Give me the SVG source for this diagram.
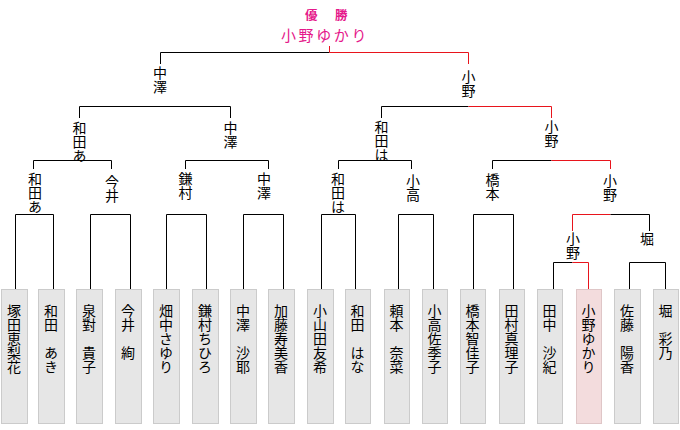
<svg xmlns="http://www.w3.org/2000/svg" width="680" height="430" viewBox="0 0 680 430">
<style>
.ln{fill:none;stroke:#000;stroke-width:1}
.rd{fill:none;stroke:#e8141c;stroke-width:1}
.box{fill:#e6e6e6;stroke:#cbcbcb;stroke-width:1}
.wbox{fill:#f3dcdd;stroke:#dfc6c7;stroke-width:1}
.v{font-family:"Noto Sans CJK JP","Noto Sans CJK SC",sans-serif;font-size:14px;fill:#000;writing-mode:vertical-rl}
.t1{font-family:"Noto Sans CJK JP","Noto Sans CJK SC",sans-serif;font-size:12.5px;font-weight:bold;fill:#e5198b;letter-spacing:2.5px}
.t2{font-family:"Noto Sans CJK JP","Noto Sans CJK SC",sans-serif;font-size:15px;fill:#e5198b;letter-spacing:2.6px}
</style>
<rect x="0" y="0" width="680" height="430" fill="#fff"/>
<g id="champion">
<text class="t1" x="305" y="19.5">優　勝</text>
<text class="t2" x="281" y="40.5">小野ゆかり</text>
</g>
<g id="connectors">
<path class="ln" d="M160.5,64 V52.5 H329.5"/>
<path class="rd" d="M329.5,46 V52.5 H468.5 V64"/>
<path class="ln" d="M79.5,118 V106.5 H230.5 V118"/>
<path class="ln" d="M381.5,118 V106.5 H468.5"/>
<path class="rd" d="M468.5,106.5 H551.5 V118"/>
<path class="ln" d="M33.5,169 V160.5 H111.5 V169"/>
<path class="ln" d="M185.5,169 V160.5 H268.5 V169"/>
<path class="ln" d="M338.5,169 V160.5 H411.5 V169"/>
<path class="ln" d="M492.5,169 V160.5 H551.5"/>
<path class="rd" d="M551.5,160.5 H610.5 V169"/>
<path class="ln" d="M15.5,289 V214.5 H53.5 V289"/>
<path class="ln" d="M90.5,289 V214.5 H130.5 V289"/>
<path class="ln" d="M166.5,289 V214.5 H206.5 V289"/>
<path class="ln" d="M243.5,289 V214.5 H283.5 V289"/>
<path class="ln" d="M321.5,289 V214.5 H355.5 V289"/>
<path class="ln" d="M398.5,289 V214.5 H433.5 V289"/>
<path class="ln" d="M473.5,289 V214.5 H513.5 V289"/>
<path class="rd" d="M572.5,231 V214.5 H610.5"/>
<path class="ln" d="M610.5,214.5 H649.5 V231"/>
<path class="ln" d="M553.5,289 V262.5 H572.5"/>
<path class="rd" d="M572.5,262.5 H588.5 V289"/>
<path class="ln" d="M629.5,289 V262.5 H665.5 V289"/>
</g>
<g id="r-final-l"><text class="v" x="160" y="65.5">中澤</text></g>
<g id="r-final-r"><text class="v" x="468.5" y="70">小野</text></g>
<g id="r-sf1"><text class="v" x="79.5" y="120.5">和田あ</text></g>
<g id="r-sf2"><text class="v" x="230.5" y="120.5">中澤</text></g>
<g id="r-sf3"><text class="v" x="381.5" y="119.5">和田は</text></g>
<g id="r-sf4"><text class="v" x="551.5" y="120">小野</text></g>
<g id="r-qf1"><text class="v" x="35" y="172">和田あ</text></g>
<g id="r-qf2"><text class="v" x="112" y="175">今井</text></g>
<g id="r-qf3"><text class="v" x="185.5" y="172">鎌村</text></g>
<g id="r-qf4"><text class="v" x="264" y="172">中澤</text></g>
<g id="r-qf5"><text class="v" x="338" y="172">和田は</text></g>
<g id="r-qf6"><text class="v" x="413" y="174">小高</text></g>
<g id="r-qf7"><text class="v" x="492.5" y="173">橋本</text></g>
<g id="r-qf8"><text class="v" x="610" y="174">小野</text></g>
<g id="r-r1a"><text class="v" x="573" y="232">小野</text></g>
<g id="r-r1b"><text class="v" x="647" y="232">堀</text></g>
<g id="p1"><rect class="box" x="1.5" y="289.5" width="26" height="134"/><text class="v" x="14" y="304">塚田恵梨花</text></g>
<g id="p2"><rect class="box" x="38.5" y="289.5" width="26" height="134"/><text class="v" x="51" y="304">和田　あき</text></g>
<g id="p3"><rect class="box" x="76.5" y="289.5" width="26" height="134"/><text class="v" x="89" y="304">泉對　貴子</text></g>
<g id="p4"><rect class="box" x="115.5" y="289.5" width="26" height="134"/><text class="v" x="128" y="304">今井　絢</text></g>
<g id="p5"><rect class="box" x="153.5" y="289.5" width="26" height="134"/><text class="v" x="166" y="304">畑中さゆり</text></g>
<g id="p6"><rect class="box" x="192.5" y="289.5" width="26" height="134"/><text class="v" x="205" y="304">鎌村ちひろ</text></g>
<g id="p7"><rect class="box" x="230.5" y="289.5" width="26" height="134"/><text class="v" x="243" y="304">中澤　沙耶</text></g>
<g id="p8"><rect class="box" x="268.5" y="289.5" width="26" height="134"/><text class="v" x="281" y="304">加藤寿美香</text></g>
<g id="p9"><rect class="box" x="307.5" y="289.5" width="26" height="134"/><text class="v" x="320" y="304">小山田友希</text></g>
<g id="p10"><rect class="box" x="345.5" y="289.5" width="25" height="134"/><text class="v" x="357.5" y="304">和田　はな</text></g>
<g id="p11"><rect class="box" x="384.5" y="289.5" width="25" height="134"/><text class="v" x="396.5" y="304">頼本　奈菜</text></g>
<g id="p12"><rect class="box" x="422.5" y="289.5" width="25" height="134"/><text class="v" x="434.5" y="304">小高佐季子</text></g>
<g id="p13"><rect class="box" x="460.5" y="289.5" width="25" height="134"/><text class="v" x="472.5" y="304">橋本智佳子</text></g>
<g id="p14"><rect class="box" x="499.5" y="289.5" width="25" height="134"/><text class="v" x="511.5" y="304">田村真理子</text></g>
<g id="p15"><rect class="box" x="537.5" y="289.5" width="25" height="134"/><text class="v" x="549.5" y="304">田中　沙紀</text></g>
<g id="p16"><rect class="wbox" x="576.5" y="289.5" width="25" height="134"/><text class="v" x="588.5" y="304">小野ゆかり</text></g>
<g id="p17"><rect class="box" x="614.5" y="289.5" width="26" height="134"/><text class="v" x="627" y="304">佐藤　陽香</text></g>
<g id="p18"><rect class="box" x="653.5" y="289.5" width="25" height="134"/><text class="v" x="665.5" y="304">堀　彩乃</text></g>
</svg>
